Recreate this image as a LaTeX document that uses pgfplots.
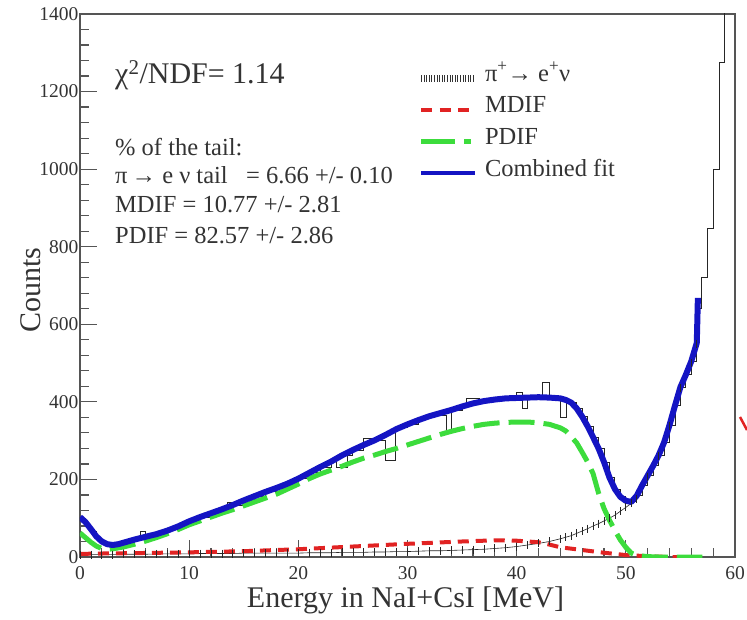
\documentclass[border=0pt]{standalone}
\usepackage{fontspec}
\setmainfont{Liberation Serif}
\newfontfamily\ser{Liberation Serif}
\usepackage{pgfplots}
\pgfplotsset{compat=1.18}
\definecolor{rootblue}{RGB}{20,20,195}
\definecolor{rootgreen}{RGB}{60,220,60}
\definecolor{rootred}{RGB}{225,35,35}
\definecolor{framegray}{RGB}{85,85,85}
\begin{document}
\begin{tikzpicture}
\path[use as bounding box] (-80pt,-62pt) rectangle (667pt,557pt);
\begin{axis}[
  at={(0pt,0pt)}, anchor=south west,
  scale only axis, width=655pt, height=543pt,
  xmin=0, xmax=60, ymin=0, ymax=1400,
  xtick={0,10,...,60}, ytick={0,200,...,1400},
  minor x tick num=4, minor y tick num=4,
  tick pos=left, tick align=inside,
  major tick length=17pt, minor tick length=9pt,
  every tick/.style={framegray, line width=1.2pt},
  axis line style={framegray, line width=1.3pt},
  /pgf/number format/assume math mode=true,
  /pgf/number format/1000 sep={},
  xticklabel={\ser\pgfmathprintnumber{\tick}},
  yticklabel={\ser\pgfmathprintnumber{\tick}},
  tick label style={font=\ser\fontsize{19.5}{21}\selectfont, text=black!80},
  x tick label style={yshift=-6pt},
  y tick label style={xshift=2pt},
  xlabel={Energy in NaI+CsI [MeV]},
  ylabel={Counts},
  label style={font=\ser\fontsize{30}{34}\selectfont, text=black!80},
  xlabel style={at={(axis description cs:0.497,0)}, anchor=base, yshift=-50pt},
  ylabel style={at={(axis description cs:-0.06,0.492)}, anchor=base},
  legend style={at={(rel axis cs:0.515,0.911)}, anchor=north west, draw=none, fill=none,
    font=\ser\fontsize{24.5}{27}\selectfont, text=black!80, inner sep=0pt,
    nodes={inner sep=1.5pt, text height=17pt, text depth=11.7pt},
    /tikz/every odd column/.append style={column sep=5pt}},
  legend cell align=left,
  clip=true,
]
% data histogram
\addplot[const plot, black!85, line width=0.9pt, forget plot] coordinates {
(0,100)(0.5,85)(1,65)(1.5,45)(2,35)(2.5,32)(3,30)(4,38)(5,48)(5.5,65)(6,52)(7,60)(8,70)(9,80)(10,92)(11,103)(12,118)(13,122)(13.5,140)(14,134)(15,146)(16,157)(17,168)(18,178)(19,189)(20,202)(21,217)(22,232)(23,246)(23.5,232)(24.5,262)(25,276)(26,305)(27.3,300)(28,250)(28.9,335)(30,342)(31,361)(32.5,365)(33.6,327)(34,379)(35,388)(35.4,410)(36.6,400)(37,402)(38,406)(39,409)(40,425)(40.5,384)(41,411)(42,412)(42.4,449)(43,411)(44,361)(44.6,400)(45,398)(45.5,383)(46,362)(46.5,337)(47,309)(47.5,280)(48,245)(48.5,205)(49,175)(49.5,155)(50,145)(50.5,142)(51,158)(51.5,185)(52,210)(52.5,235)(53,262)(53.5,295)(54,340)(54.5,390)(55,438)(55.5,470)(56,505)(56.5,640)(56.96,722)(57.5,848)(58,998)(58.6,1276)(59.07,1600)(60,1600)
};
% pi -> e nu
\addplot[black!85, line width=0.6pt, mark=|, mark size=4pt, mark options={line width=0.7pt},
  legend image code/.code={\draw[black!80, line width=7pt, dash pattern=on 0.9pt off 1.7pt] (0pt,0pt) -- (54pt,0pt);}]
coordinates {
(0,5)(1,6)(2,6)(3,6)(4,7)(5,7)(6,7)(7,8)(8,8)(9,8)(10,8)(11,9)(12,9)(13,9)(14,9)(15,10)(16,10)(17,10)(18,10)(19,10)(20,10)(21,11)(22,11)(23,11)(24,12)(25,12)(26,12)(27,13)(28,13)(29,14)(30,14)(31,15)(32,16)(33,16)(34,17)(35,18)(36,19)(37,20)(38,22)(39,24)(40,27)(41,31)(42,35)(43,40)(44,47)(44.5,51)(45,55)(45.5,61)(46,67)(46.5,73)(47,80)(47.5,86)(48,93)(48.5,100)(49,108)(49.5,118)(50,128)(50.5,138)(51,150)(52,205)(53,260)(54,338)(55,435)(56,500)(56.5,550)
};
\addlegendentry{π\textsuperscript{+}→ e\textsuperscript{+}ν}
% MDIF
\addplot[rootred, line width=4pt, dash pattern=on 11pt off 7pt,
  legend image code/.code={\draw[rootred, line width=4pt, dash pattern=on 11pt off 7.5pt] (0pt,0pt) -- (54pt,0pt);}]
coordinates {
(0,8)(2,9)(5,10)(10,12)(15,15)(20,20)(25,27)(30,34)(35,40)(38,43)(40,42)(42,38)(43,32)(44,25)(46,18)(48,11)(50,5)(52,2)(54,0)(56,0)
};
\addlegendentry{MDIF}
% PDIF
\addplot[rootgreen, line width=5pt, dash pattern=on 26pt off 9pt,
  legend image code/.code={\draw[rootgreen, line width=5pt, dash pattern=on 34pt off 9pt on 7pt off 9pt] (0pt,0pt) -- (54pt,0pt);}]
coordinates {
(0,62)(0.5,50)(1,38)(1.5,28)(2,22)(2.5,20)(3,21)(4,26)(5,33)(6,41)(7,50)(8,60)(9,71)(10,83)(11,93)(12,103)(13,113)(14,122)(15,132)(16,142)(17,152)(18,162)(19,175)(20,188)(21,202)(22,214)(23,224)(24,234)(25,245)(26,255)(27,263)(28,272)(29,280)(30,289)(31,298)(32,307)(33,316)(34,324)(35,331)(36,337)(37,342)(38,345)(39,347)(40,348)(41,348)(42,346)(43,342)(44,333)(44.5,325)(45,310)(45.5,294)(46,270)(46.5,245)(47,215)(47.5,165)(48,125)(48.5,95)(49,68)(49.5,44)(50,25)(50.5,10)(51,4)(52,1)(53,0)(57,0)
};
\addlegendentry{PDIF}
% Combined fit
\addplot[rootblue, line width=6pt, line join=round,
  legend image code/.code={\draw[rootblue, line width=4pt] (0pt,0pt) -- (54pt,0pt);}]
coordinates {
(0,103)(0.5,90)(1,72)(1.5,53)(2,40)(2.5,33)(3,31)(3.5,33)(4,37)(5,45)(6,52)(7,59)(8,68)(9,79)(10,92)(11,103)(12,113)(13,123)(14,134)(15,146)(16,157)(17,168)(18,178)(19,189)(20,202)(21,217)(22,232)(23,246)(24,262)(25,276)(26,289)(27,301)(28,315)(29,330)(30,342)(31,353)(32,363)(33,371)(34,379)(35,388)(36,396)(37,402)(38,406)(39,409)(40,410)(41,411)(42,412)(43,411)(44,409)(44.5,405)(45,398)(45.5,383)(46,362)(46.5,337)(47,309)(47.5,280)(48,245)(48.5,205)(49,175)(49.5,155)(50,145)(50.5,142)(51,158)(51.5,185)(52,210)(52.5,235)(53,262)(53.5,295)(54,340)(54.5,390)(55,438)(55.5,470)(56,505)(56.5,552)(56.6,668)
};
\addlegendentry{Combined fit}
\node[anchor=west, font=\ser\fontsize{30}{34}\selectfont, text=black!80] at (axis cs:2.9,1243) {χ\textsuperscript{2}/NDF= 1.14};
\node[anchor=west, font=\ser\fontsize{24.5}{27}\selectfont, text=black!80] at (axis cs:2.9,1057) {\% of the tail:};
\node[anchor=west, font=\ser\fontsize{24.5}{27}\selectfont, text=black!80] at (axis cs:2.9,985) {π\,→ e ν tail\ \ \ = 6.66 +/- 0.10};
\node[anchor=west, font=\ser\fontsize{24.5}{27}\selectfont, text=black!80] at (axis cs:2.9,910) {MDIF = 10.77 +/- 2.81};
\node[anchor=west, font=\ser\fontsize{24.5}{27}\selectfont, text=black!80] at (axis cs:2.9,828) {PDIF = 82.57 +/- 2.86};
\end{axis}
\draw[rootred, line width=2.5pt] (660pt,140pt) -- (667pt,127pt);
\end{tikzpicture}
\end{document}
